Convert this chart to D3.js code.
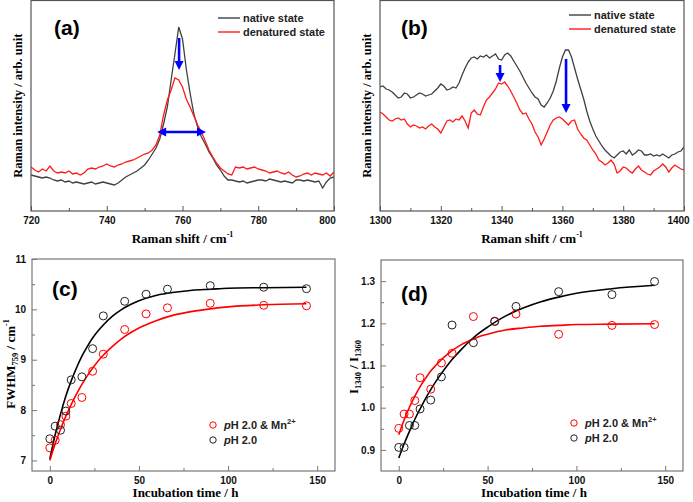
<!DOCTYPE html>
<html><head><meta charset="utf-8">
<script src="https://cdn.jsdelivr.net/npm/d3@7"></script>
<style>body{margin:0;background:#fff}</style>
</head><body><svg id="c" width="693" height="502"></svg>
<script>
// ---------- DATA ----------
// Panel (a): Raman spectra 720-800 cm-1 (1 cm-1 step), arbitrary intensity
const shiftA = d3.range(720, 801, 1);
const nativeA = [36,35,34,33,34,33,31,30,31,29,30,28,29,28,27,28,29,27,28,29,
  28,27,26,28,31,34,36,38,40,43,46,51,57,63,72,87,104,131,157,184,
  172,142,118,97,84,74,67,59,53,46,41,35,31,31,30,29,30,28,29,30,
  31,31,30,32,31,30,29,30,29,28,31,31,30,31,30,29,30,23,29,33,34];
const denatA = [44,41,39,42,40,45,40,38,39,38,40,37,38,36,38,42,43,42,44,45,
  47,45,44,46,47,49,50,51,53,55,57,58,61,66,76,96,111,121,133,131,
  124,112,104,95,86,79,70,61,54,48,43,40,37,36,44,43,44,42,43,44,
  42,41,40,38,39,40,38,37,39,36,34,35,37,38,36,38,37,36,38,35,39];
// Panel (b): Raman spectra 1300-1400 cm-1
const shiftB = d3.range(1300, 1401, 1);
const nativeB = [124,125,122,121,119,116,113,114,118,117,113,114,116,118,117,115,116,117,120,123,
  127,125,121,122,124,123,128,136,143,149,153,154,152,155,154,156,153,155,157,152,
  151,156,158,155,150,145,140,134,128,123,118,114,112,106,104,108,113,120,130,143,
  154,161,161,154,143,132,122,112,100,90,82,75,70,65,61,58,55,53,56,59,
  60,57,61,56,58,61,60,56,56,57,55,56,55,57,55,53,56,57,59,60,64];
const denatB = [99,97,94,91,90,92,93,91,92,87,84,86,85,83,84,82,85,87,84,82,
  78,84,90,91,89,92,91,95,90,83,98,101,97,96,104,111,114,118,122,128,
  127,129,125,120,114,108,101,97,98,92,87,79,74,66,72,79,86,91,93,94,
  92,89,86,90,91,82,77,73,71,66,61,57,51,49,46,48,51,47,38,40,
  44,43,40,38,42,45,41,39,37,36,40,42,44,47,44,39,43,46,44,42,41];
const specLegend = ["native state", "denatured state"];
// arrows: [x1,y1,x2,y2] in data units
const arrowsA = [[759.1, 173, 759.1, 141, "down"], [753.3, 79, 766.2, 79, "both"]];
const arrowsB = [[1339.5, 146, 1339.5, 129, "down"], [1361.2, 152, 1361.2, 98, "down"]];
const ticksA = [720, 740, 760, 780, 800], minorA = [730, 750, 770, 790];
const ticksB = [1300, 1320, 1340, 1360, 1380, 1400], minorB = [1310, 1330, 1350, 1370, 1390];

// Panel (c),(d): incubation time series
const timeH = [0, 3, 6, 9, 12, 18, 24, 30, 42, 54, 66, 90, 120, 144];
const fwhmMn = [7.25, 7.40, 7.71, 7.88, 8.13, 8.25, 8.77, 9.11, 9.60, 9.91, 10.03, 10.12, 10.08, 10.07];
const fwhmPH = [7.43, 7.68, 7.60, 7.98, 8.60, 8.66, 9.22, 9.87, 10.16, 10.30, 10.40, 10.47, 10.44, 10.41];
const ratioMn = [0.951, 0.985, 0.985, 1.017, 1.071, 1.044, 1.106, 1.129, 1.216, 1.204, 1.222, 1.174, 1.195, 1.197];
const ratioPH = [0.906, 0.906, 0.958, 0.958, 0.997, 1.018, 1.073, 1.196, 1.154, 1.205, 1.240, 1.275, 1.268, 1.299];
// fitted curves
const fitT = [0, 3, 6, 9, 12, 15, 18, 21, 24, 27, 30, 35, 40, 45, 50, 60, 70, 80, 90, 100, 120, 144];
const fitFwhmMn = [7.00, 7.33, 7.62, 7.88, 8.11, 8.32, 8.51, 8.68, 8.83, 8.97, 9.09, 9.26, 9.41, 9.53, 9.63, 9.78, 9.89, 9.96, 10.01, 10.05, 10.09, 10.11];
const fitFwhmPH = [7.03, 7.51, 7.92, 8.28, 8.58, 8.84, 9.07, 9.26, 9.43, 9.57, 9.69, 9.86, 9.99, 10.09, 10.17, 10.28, 10.34, 10.38, 10.40, 10.42, 10.43, 10.44];
const fitRatioMn = [0.936, 0.971, 1.001, 1.027, 1.050, 1.069, 1.087, 1.101, 1.114, 1.125, 1.135, 1.149, 1.159, 1.168, 1.174, 1.184, 1.189, 1.193, 1.195, 1.197, 1.198, 1.199];
const fitRatioPH = [0.881, 0.914, 0.944, 0.972, 0.997, 1.021, 1.043, 1.063, 1.081, 1.098, 1.114, 1.137, 1.158, 1.176, 1.191, 1.217, 1.236, 1.251, 1.262, 1.271, 1.282, 1.290];
const timeTicks = [0, 50, 100, 150], timeMinor = [25, 75, 125];
const fwhmTicks = [7, 8, 9, 10, 11], fwhmMinor = [7.5, 8.5, 9.5, 10.5];
const ratioTicks = [0.9, 1.0, 1.1, 1.2, 1.3], ratioMinor = [0.95, 1.05, 1.15, 1.25];
const kinLegend = ["& Mn", "pH 2.0"];

// ---------- DRAW ----------
const svg = d3.select("#c");
const SANS = "'Liberation Sans', Arial, sans-serif";
const SERIF = "'Liberation Serif', 'Times New Roman', serif";
const BLUE = "#0000ff", RED = "#ff1a1a";
const TICKFS = 10;
const defs = svg.append("defs");

function frameAxes(g, x, y, box, xt, xm, yt, ym, yfmt, color, lastShift) {
  const [l, t, r, b] = box;
  const ax = g.append("g").attr("transform", `translate(0,${b})`)
    .call(d3.axisBottom(x).tickValues(xt).tickSizeInner(-5).tickSizeOuter(0).tickPadding(6).tickFormat(d3.format("d")));
  ax.select(".domain").remove();
  const axm = g.append("g").attr("transform", `translate(0,${b})`)
    .call(d3.axisBottom(x).tickValues(xm).tickSizeInner(-3).tickSizeOuter(0).tickFormat(""));
  axm.select(".domain").remove();
  [ax, axm].forEach(a => a.selectAll("line").attr("stroke", color).attr("stroke-width", 1));
  ax.selectAll("text").attr("font-family", SANS).attr("font-weight", "bold").attr("font-size", TICKFS).attr("fill", "#111");
  if (lastShift) ax.selectAll(".tick").filter((d, i) => i === xt.length - 1).select("text").attr("dx", lastShift);
  if (yt) {
    const ay = g.append("g").attr("transform", `translate(${l},0)`)
      .call(d3.axisLeft(y).tickValues(yt).tickSizeInner(-5).tickSizeOuter(0).tickPadding(6).tickFormat(yfmt));
    ay.select(".domain").remove();
    const aym = g.append("g").attr("transform", `translate(${l},0)`)
      .call(d3.axisLeft(y).tickValues(ym).tickSizeInner(-3).tickSizeOuter(0).tickFormat(""));
    aym.select(".domain").remove();
    [ay, aym].forEach(a => a.selectAll("line").attr("stroke", color).attr("stroke-width", 1));
    ay.selectAll("text").attr("font-family", SANS).attr("font-weight", "bold").attr("font-size", TICKFS).attr("fill", "#111");
  }
  g.append("rect").attr("x", l).attr("y", t).attr("width", r - l).attr("height", b - t)
    .attr("fill", "none").attr("stroke", color).attr("stroke-width", 1.2);
}

function clip(id, box) {
  defs.append("clipPath").attr("id", id).append("rect")
    .attr("x", box[0]).attr("y", box[1]).attr("width", box[2] - box[0]).attr("height", box[3] - box[1]);
}

function arrowHead(g, x, y, dir) {
  const L = 9, W = 4.5;
  const pts = [[0, 0], [-L, -W], [-L, W]].map(([px, py]) => [
    x + px * Math.cos(dir) - py * Math.sin(dir),
    y + px * Math.sin(dir) + py * Math.cos(dir)]);
  g.append("polygon").attr("points", pts.map(p => p.join(",")).join(" ")).attr("fill", BLUE);
}

function drawArrows(g, x, y, arrows) {
  arrows.forEach(([x1, y1, x2, y2, kind]) => {
    const X1 = x(x1), Y1 = y(y1), X2 = x(x2), Y2 = y(y2);
    const ang = Math.atan2(Y2 - Y1, X2 - X1);
    const s = kind === "both" ? 7 : 0;
    g.append("line")
      .attr("x1", X1 + s * Math.cos(ang)).attr("y1", Y1 + s * Math.sin(ang))
      .attr("x2", X2 - 7 * Math.cos(ang)).attr("y2", Y2 - 7 * Math.sin(ang))
      .attr("stroke", BLUE).attr("stroke-width", 2.6);
    arrowHead(g, X2, Y2, ang);
    if (kind === "both") arrowHead(g, X1, Y1, ang + Math.PI);
  });
}

function spectrumPanel(box, shifts, nat, den, xt, xm, arrows, label, labelPos, legPos, cid, lastShift) {
  const [l, t, r, b] = box;
  const x = d3.scaleLinear().domain([shifts[0], shifts[shifts.length - 1]]).range([l, r]);
  const y = d3.scaleLinear().domain([0, 211]).range([211, 0]);
  const g = svg.append("g");
  clip(cid, box);
  const line = d3.line().x((d, i) => x(shifts[i])).y(d => y(d));
  const pg = g.append("g").attr("clip-path", `url(#${cid})`);
  pg.append("path").datum(nat).attr("d", line).attr("fill", "none").attr("stroke", "#404040").attr("stroke-width", 1.3);
  pg.append("path").datum(den).attr("d", line).attr("fill", "none").attr("stroke", RED).attr("stroke-width", 1.3);
  drawArrows(g, x, y, arrows);
  frameAxes(g, x, y, box, xt, xm, null, null, null, "#555", lastShift);
  g.append("text").attr("x", labelPos[0]).attr("y", labelPos[1]).text(label)
    .attr("font-family", SANS).attr("font-weight", "bold").attr("font-size", 21);
  const cols = ["#404040", RED];
  specLegend.forEach((s, i) => {
    const yy = legPos[1] + i * 14;
    g.append("line").attr("x1", legPos[0]).attr("x2", legPos[0] + 22).attr("y1", yy).attr("y2", yy)
      .attr("stroke", cols[i]).attr("stroke-width", 1.4);
    g.append("text").attr("x", legPos[0] + 25).attr("y", yy + 4).text(s)
      .attr("font-family", SANS).attr("font-weight", "bold").attr("font-size", 11).attr("fill", "#222");
  });
  const xt2 = g.append("text").attr("x", (l + r) / 2).attr("y", b + 32).attr("text-anchor", "middle")
    .attr("font-family", SERIF).attr("font-weight", "bold").attr("font-size", 13);
  xt2.append("tspan").text("Raman shift / cm");
  xt2.append("tspan").text("-1").attr("font-size", 8).attr("dy", -6);
  g.append("text").attr("transform", `translate(${l - 9},${(t + b) / 2}) rotate(-90)`)
    .attr("text-anchor", "middle").attr("font-family", SERIF).attr("font-weight", "bold").attr("font-size", 12.5)
    .text("Raman intensity / arb. unit");
}

spectrumPanel([31, 0.5, 334, 211], shiftA, nativeA, denatA, ticksA, minorA, arrowsA, "(a)", [54, 35], [218, 18], "ca", -7);
spectrumPanel([380, 0.5, 684, 211], shiftB, nativeB, denatB, ticksB, minorB, arrowsB, "(b)", [401, 35], [569, 15], "cb", -6);

function kineticPanel(box, ydom, yt, ym, yfmt, mn, ph, fitMn, fitPH, label, labelPos, legPos, ytitle, cid) {
  const [l, t, r, b] = box;
  const x = d3.scaleLinear().domain([-10, 160]).range([l, r]);
  const y = d3.scaleLinear().domain(ydom).range([b, t]);
  const g = svg.append("g");
  clip(cid, box);
  const pg = g.append("g").attr("clip-path", `url(#${cid})`);
  const line = d3.line().x((d, i) => x(fitT[i])).y(d => y(d)).curve(d3.curveMonotoneX);
  pg.append("path").datum(fitPH).attr("d", line).attr("fill", "none").attr("stroke", "#000").attr("stroke-width", 1.6);
  pg.append("path").datum(fitMn).attr("d", line).attr("fill", "none").attr("stroke", "#ff0000").attr("stroke-width", 1.6);
  [[mn, "#ff0000"], [ph, "#222"]].forEach(([vals, c]) => {
    pg.selectAll(null).data(vals).enter().append("circle")
      .attr("cx", (d, i) => x(timeH[i])).attr("cy", d => y(d)).attr("r", 4)
      .attr("fill", "none").attr("stroke", c).attr("stroke-width", 1);
  });
  frameAxes(g, x, y, box, timeTicks, timeMinor, yt, ym, yfmt, "#777", 0);
  g.append("text").attr("x", labelPos[0]).attr("y", labelPos[1]).text(label)
    .attr("font-family", SANS).attr("font-weight", "bold").attr("font-size", 21);
  const lcols = ["#ff0000", "#222"];
  kinLegend.forEach((s, i) => {
    const yy = legPos[1] + i * 15;
    g.append("circle").attr("cx", legPos[0]).attr("cy", yy).attr("r", 3.2)
      .attr("fill", "none").attr("stroke", lcols[i]).attr("stroke-width", 1);
    const tx = g.append("text").attr("x", legPos[0] + 11).attr("y", yy + 4)
      .attr("font-family", SANS).attr("font-weight", "bold").attr("font-size", 11).attr("fill", "#222");
    tx.append("tspan").text("p").attr("font-style", "italic");
    if (i === 0) {
      tx.append("tspan").text("H 2.0 " + s);
      tx.append("tspan").text("2+").attr("font-size", 7.5).attr("dy", -5);
    } else {
      tx.append("tspan").text(s.slice(1));
    }
  });
  g.append("text").attr("x", (l + r) / 2 + 2).attr("y", 497).attr("text-anchor", "middle")
    .attr("font-family", SERIF).attr("font-weight", "bold").attr("font-size", 13).text("Incubation time / h");
  const yg = g.append("text").attr("transform", `translate(${ytitle.x},${ytitle.y}) rotate(-90)`)
    .attr("text-anchor", "middle").attr("font-family", SERIF).attr("font-weight", "bold").attr("font-size", 13);
  ytitle.parts.forEach(([txt, kind]) => {
    const sp = yg.append("tspan").text(txt);
    if (kind === "sub") sp.attr("font-size", 8.5).attr("dy", 3);
    if (kind === "subend") sp.attr("dy", -3);
    if (kind === "sup") sp.attr("font-size", 8).attr("dy", -6);
  });
}

kineticPanel([32, 259, 335, 471], [6.79, 11], fwhmTicks, fwhmMinor, d3.format("d"),
  fwhmMn, fwhmPH, fitFwhmMn, fitFwhmPH, "(c)", [52, 296], [213, 425],
  {x: 15, y: 364, parts: [["FWHM", ""], ["759", "sub"], [" / cm", "subend"], ["-1", "sup"]]}, "cc");
kineticPanel([381, 260, 683, 471], [0.85, 1.35], ratioTicks, ratioMinor, d3.format(".1f"),
  ratioMn, ratioPH, fitRatioMn, fitRatioPH, "(d)", [401, 301], [574, 423],
  {x: 358, y: 367, parts: [["I", ""], ["1340", "sub"], [" / I", "subend"], ["1360", "sub"]]}, "cd");
</script></body></html>
